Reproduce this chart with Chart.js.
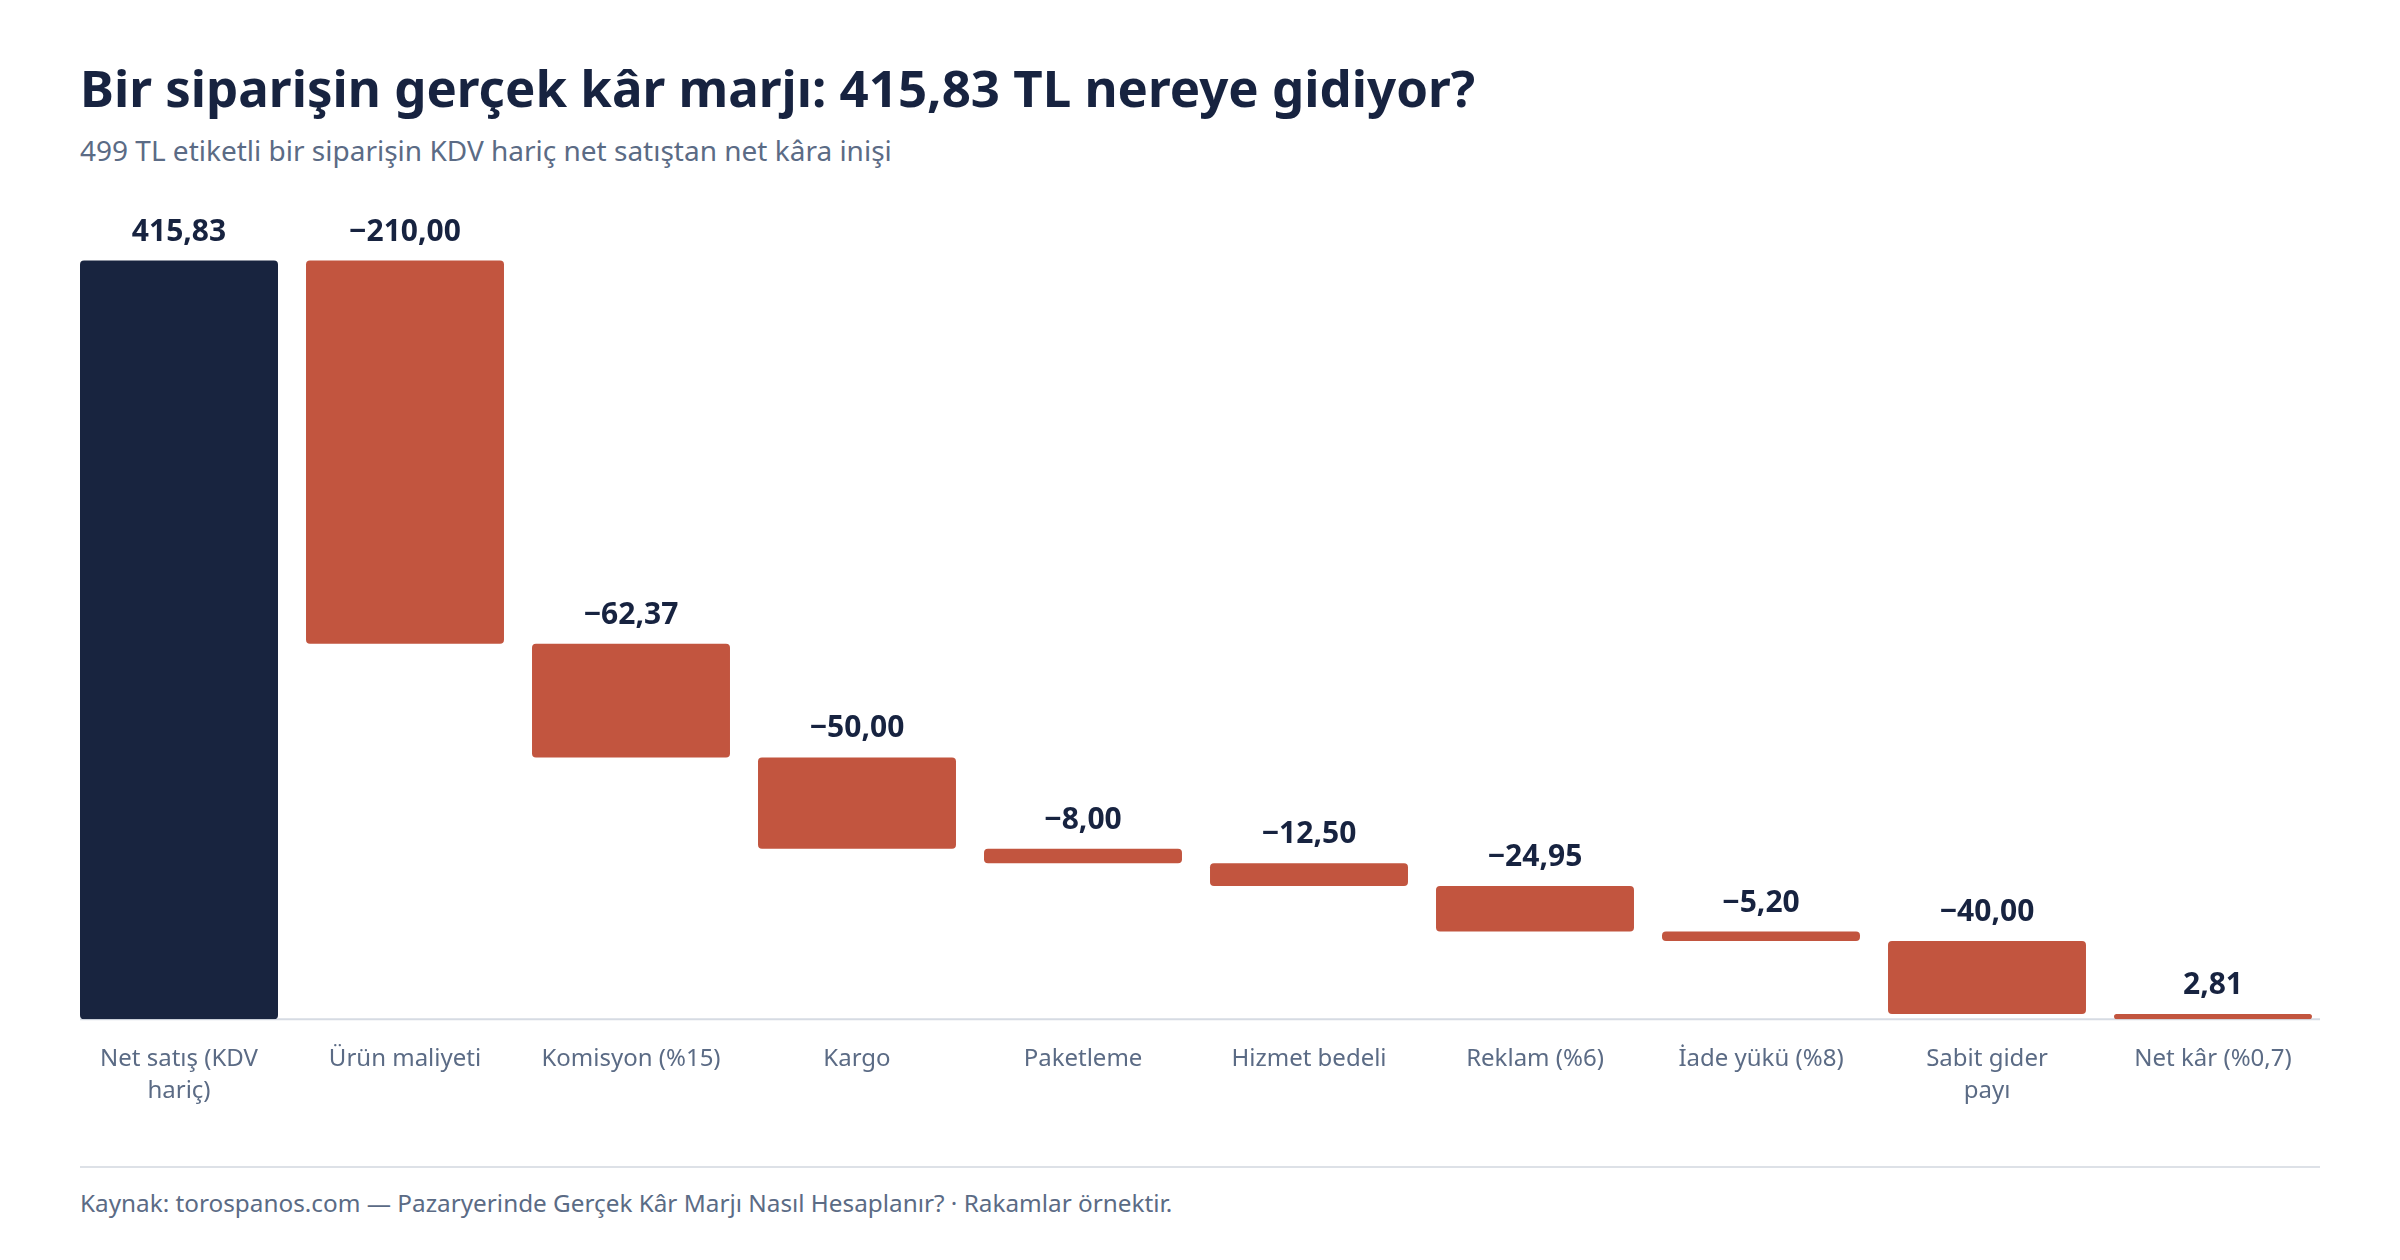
<!DOCTYPE html>
<html lang="tr">
<head>
<meta charset="utf-8">
<title>Bir siparişin gerçek kâr marjı</title>
<script src="https://cdn.jsdelivr.net/npm/chart.js@4/dist/chart.umd.min.js"></script>
<style>
  html, body { margin: 0; padding: 0; background: #fff; }
  body { width: 2400px; height: 1260px; position: relative; overflow: hidden;
         font-family: "Segoe UI", "Noto Sans", sans-serif; }
  #title { position: absolute; left: 80px; top: 52px; margin: 0;
           font-size: 51px; font-weight: 700; color: #172340; white-space: nowrap; }
  #subtitle { position: absolute; left: 80px; top: 131px; margin: 0;
              font-size: 28px; color: #5b6b85; white-space: nowrap; }
  #wrap { position: absolute; left: 66px; top: 180px; width: 2260px; height: 951px; }
  #rule { position: absolute; left: 80px; top: 1166px; width: 2240px; height: 2px; background: #dde1e7; }
  #source { position: absolute; left: 80px; top: 1186px; margin: 0;
            font-size: 24.3px; color: #5b6b85; white-space: nowrap; }
</style>
</head>
<body>
<h1 id="title">Bir siparişin gerçek kâr marjı: 415,83 TL nereye gidiyor?</h1>
<p id="subtitle">499 TL etiketli bir siparişin KDV hariç net satıştan net kâra inişi</p>
<div id="wrap"><canvas id="chart"></canvas></div>
<div id="rule"></div>
<p id="source">Kaynak: torospanos.com — Pazaryerinde Gerçek Kâr Marjı Nasıl Hesaplanır? · Rakamlar örnektir.</p>

<script>
// ---- data ----
const labels = [
    ['Net satış (KDV', 'hariç)'], 'Ürün maliyeti', 'Komisyon (%15)', 'Kargo', 'Paketleme',
    'Hizmet bedeli', 'Reklam (%6)', 'İade yükü (%8)', ['Sabit gider', 'payı'], 'Net kâr (%0,7)'
];
const amounts = [415.83, -210.00, -62.37, -50.00, -8.00, -12.50, -24.95, -5.20, -40.00, 2.81];
const isTotal = [true, false, false, false, false, false, false, false, false, true];

const NAVY = '#18243f';
const RUST = '#c2553f';
const INK = '#172340';
const SLATE = '#5b6b85';

// floating ranges: totals stand on zero, steps hang from the running sum
let running = 0;
const ranges = amounts.map((v, i) => {
    if (isTotal[i]) { running = v; return [0, v]; }
    const from = running;
    running += v;
    return [running, from];
});
const colors = amounts.map((v, i) => (i === 0 ? NAVY : RUST));

const fmt = v => (v < 0 ? '\u2212' : '') +
    Math.abs(v).toLocaleString('tr-TR', { minimumFractionDigits: 2, maximumFractionDigits: 2 });

// baseline under the bars + value labels above them
const decor = {
    id: 'decor',
    beforeDatasetsDraw(chart) {
        const bars = chart.getDatasetMeta(0).data;
        const y0 = chart.scales.y.getPixelForValue(0);
        const ctx = chart.ctx;
        ctx.save();
        ctx.strokeStyle = '#d6dbe3';
        ctx.lineWidth = 2;
        ctx.beginPath();
        ctx.moveTo(bars[0].x - bars[0].width / 2, y0);
        ctx.lineTo(chart.chartArea.right - 6, y0);
        ctx.stroke();
        ctx.restore();
    },
    afterDatasetsDraw(chart) {
        const ctx = chart.ctx;
        ctx.save();
        ctx.font = '700 30px "Segoe UI", "Noto Sans", sans-serif';
        ctx.fillStyle = INK;
        ctx.textAlign = 'center';
        ctx.textBaseline = 'alphabetic';
        chart.getDatasetMeta(0).data.forEach((bar, i) => {
            const top = Math.min(bar.y, bar.base);
            ctx.fillText(fmt(amounts[i]), bar.x, top - 20);
        });
        ctx.restore();
    }
};

new Chart(document.getElementById('chart'), {
    type: 'bar',
    data: {
        labels: labels,
        datasets: [{
            data: ranges,
            backgroundColor: colors,
            borderRadius: 4,
            borderSkipped: false,
            barPercentage: 0.876,
            categoryPercentage: 1
        }]
    },
    options: {
        responsive: true,
        maintainAspectRatio: false,
        animation: false,
        layout: { padding: 0 },
        plugins: { legend: { display: false }, tooltip: { enabled: false } },
        scales: {
            x: {
                grid: { display: false, drawTicks: false },
                border: { display: false },
                ticks: {
                    color: SLATE,
                    padding: 24,
                    maxRotation: 0,
                    autoSkip: false,
                    font: { family: '"Segoe UI", "Noto Sans", sans-serif', size: 24, lineHeight: 1.33 }
                }
            },
            y: {
                display: false,
                min: 0,
                max: 460
            }
        }
    },
    plugins: [decor]
});
</script>
</body>
</html>
